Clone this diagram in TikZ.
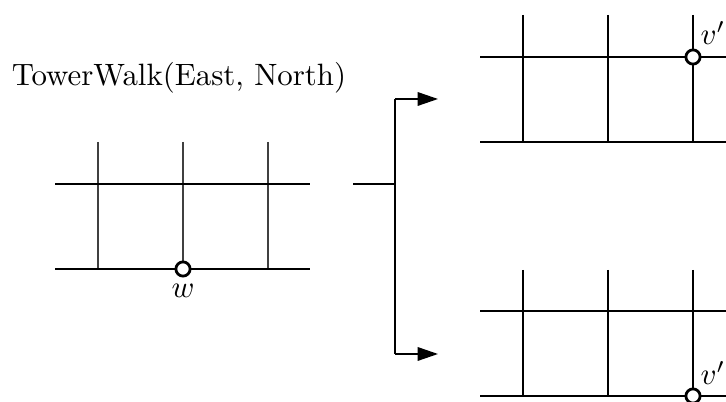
\documentclass[tikz,border=0pt]{standalone}
\usetikzlibrary{arrows.meta}
\begin{document}
\begin{tikzpicture}[x=0.324pt,y=-0.324pt,
  hline/.style={line width=0.9pt,black},
  thinv/.style={line width=0.5pt,black!75},
  thickv/.style={line width=0.9pt,black},
  vtx/.style={circle,draw=black,fill=white,line width=0.9pt,minimum size=4.6pt,inner sep=0pt},
  conn/.style={line width=0.5pt,black},
  arr/.style={conn,-{Triangle[length=6.6pt,width=4.4pt]}}]
\useasboundingbox (0,0) rectangle (726,402);
% title
\node[anchor=base,inner sep=0pt] (title) at (179,86) {TowerWalk(East, North)};
% left grid
\foreach \x in {98,183,268} \draw[thinv] (\x,142) -- (\x,269);
\draw[hline] (55,184) -- (310,184);
\draw[hline] (55,269) -- (310,269);
\node[vtx] (w) at (183,269) {};
\node[anchor=base,inner sep=0pt] (wl) at (183,298) {$w$};
% top right grid
\foreach \x in {523,608,693} \draw[thickv] (\x,15) -- (\x,142);
\draw[hline] (480,57) -- (740,57);
\draw[hline] (480,142) -- (740,142);
\node[vtx] (v1) at (693,57) {};
\node[anchor=base west,inner sep=0pt] (v1l) at (700,45) {$v'$};
% bottom right grid
\foreach \x in {523,608,693} \draw[thickv] (\x,270) -- (\x,396);
\draw[hline] (480,311) -- (740,311);
\draw[hline] (480,396) -- (740,396);
\node[vtx] (v2) at (693,396) {};
\node[anchor=base west,inner sep=0pt] (v2l) at (700,385) {$v'$};
% connector
\coordinate (s) at (353,184);
\coordinate (j) at (395,184);
\coordinate (jt) at (395,99);
\coordinate (jb) at (395,354);
\coordinate (et) at (438,99);
\coordinate (eb) at (438,354);
\draw[conn] (s) -- (j);
\draw[conn] (jt) -- (jb);
\draw[arr] (jt) -- (et);
\draw[arr] (jb) -- (eb);
\end{tikzpicture}
\end{document}
